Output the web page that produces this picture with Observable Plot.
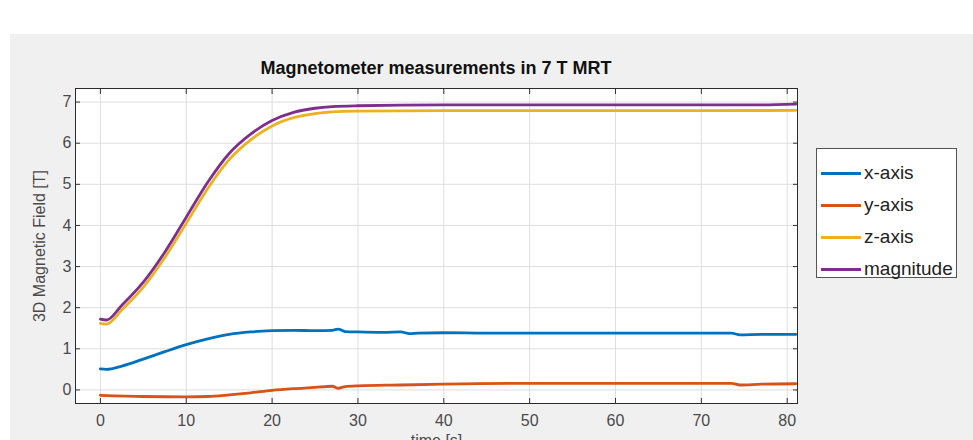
<!DOCTYPE html>
<html>
<head>
<meta charset="utf-8">
<script src="https://cdn.jsdelivr.net/npm/d3@7"></script>
<script src="https://cdn.jsdelivr.net/npm/@observablehq/plot@0.6"></script>
<style>
  html, body { margin: 0; padding: 0; background: #ffffff; }
  #page { position: relative; width: 973px; height: 440px; overflow: hidden; font-family: "Liberation Sans", Arial, sans-serif; }
  #bg { position: absolute; left: 10px; top: 34px; right: 0; bottom: 0; background: #f0f0f0; }
  #chart { position: absolute; left: 0; top: 0; }
  #title { position: absolute; left: 0; width: 872px; top: 58px; text-align: center; font-weight: bold; font-size: 18px; line-height: 20px; color: #111; }
  #legend { position: absolute; left: 816px; top: 148px; width: 141px; height: 130px; background: #fff; border: 1px solid #555; box-sizing: border-box; padding-top: 8px; }
  .item { display: flex; align-items: center; height: 32px; }
  .swatch { width: 40px; height: 3px; margin-left: 4px; margin-right: 3px; }
  .lab { font-size: 19px; color: #222; }
</style>
</head>
<body>
<div id="page">
  <div id="bg"></div>
  <div id="chart"></div>
  <div id="title">Magnetometer measurements in 7 T MRT</div>
  <div id="legend"></div>
</div>
<script>
// ---- data ----
const seriesNames = ["x-axis", "y-axis", "z-axis", "magnitude"];
const seriesColors = ["#0072BD", "#D95319", "#EDB120", "#7E2F8E"];

const tX = [0, 0.7, 2.5, 5, 7.5, 10, 12.5, 15, 17.5, 20, 22.5, 25, 27, 27.7, 28.5, 30, 33, 35, 36, 37, 40, 45, 50, 55, 60, 65, 70, 73.5, 74.5, 77, 81];
const xAxisVals = [0.51, 0.50, 0.58, 0.75, 0.93, 1.10, 1.24, 1.35, 1.41, 1.44, 1.45, 1.44, 1.45, 1.48, 1.42, 1.41, 1.40, 1.41, 1.37, 1.38, 1.39, 1.38, 1.38, 1.38, 1.38, 1.38, 1.38, 1.38, 1.34, 1.35, 1.35];

const tY = [0, 5, 10, 12.5, 15, 17.5, 20, 22.5, 25, 27, 27.7, 28.5, 30, 35, 40, 50, 60, 70, 73.5, 74.5, 77, 81];
const yAxisVals = [-0.13, -0.16, -0.17, -0.16, -0.12, -0.07, -0.01, 0.03, 0.06, 0.09, 0.04, 0.08, 0.10, 0.12, 0.14, 0.16, 0.16, 0.16, 0.16, 0.12, 0.14, 0.15];

const tZ = [0, 0.7, 2.5, 5, 7.5, 10, 12.5, 15, 17.5, 20, 22.5, 25, 27, 30, 40, 50, 60, 70, 81];
const zAxisVals = [1.62, 1.60, 1.95, 2.50, 3.22, 4.05, 4.90, 5.60, 6.08, 6.42, 6.62, 6.72, 6.76, 6.78, 6.79, 6.79, 6.79, 6.79, 6.80];

const tM = [0, 0.7, 2.5, 5, 7.5, 10, 12.5, 15, 17.5, 20, 22.5, 25, 27, 30, 40, 50, 60, 70, 77, 81];
const magnitudeVals = [1.72, 1.70, 2.06, 2.62, 3.35, 4.20, 5.05, 5.75, 6.22, 6.55, 6.75, 6.85, 6.89, 6.91, 6.93, 6.93, 6.93, 6.93, 6.93, 6.95];

const xTicks = [0, 10, 20, 30, 40, 50, 60, 70, 80];
const yTicks = [0, 1, 2, 3, 4, 5, 6, 7];
const xLabel = "time [s]";
const yLabel = "3D Magnetic Field [T]";

// ---- build table ----
const rows = [];
[[tX, xAxisVals], [tY, yAxisVals], [tZ, zAxisVals], [tM, magnitudeVals]].forEach(([ts, vs], i) => {
  ts.forEach((t, j) => rows.push({series: seriesNames[i], t, v: vs[j]}));
});

const tickColor = "#333";
const textColor = "#4a4a4a";

const chart = Plot.plot({
  width: 973,
  height: 440,
  marginLeft: 75,
  marginRight: 176,
  marginTop: 88,
  marginBottom: 37,
  style: {background: "transparent", fontFamily: "'Liberation Sans', Arial, sans-serif", fontSize: "16px", overflow: "visible"},
  x: {domain: [-2.9, 81.2]},
  y: {domain: [-0.33, 7.33]},
  color: {domain: seriesNames, range: seriesColors},
  marks: [
    Plot.frame({fill: "white", stroke: "none"}),
    Plot.gridX({ticks: xTicks, stroke: "#dedede", strokeOpacity: 1}),
    Plot.gridY({ticks: yTicks, stroke: "#dedede", strokeOpacity: 1}),
    Plot.line(rows, {x: "t", y: "v", z: "series", stroke: "series", strokeWidth: 2.8, curve: "monotone-x"}),
    Plot.frame({stroke: "#2b2b2b", strokeWidth: 1}),
    // labels
    Plot.axisY({ticks: yTicks, tickSize: 0, tickPadding: 4, fill: textColor, label: yLabel, labelAnchor: "center", labelOffset: 42, labelArrow: "none"}),
    Plot.axisX({ticks: xTicks, tickSize: 0, tickPadding: 11, fill: textColor, label: xLabel, labelAnchor: "center", labelOffset: 42, labelArrow: "none"}),
    // inward ticks on all four sides
    Plot.axisY({ticks: yTicks, anchor: "left", tickSize: -5, fill: "none", stroke: tickColor, label: null}),
    Plot.axisY({ticks: yTicks, anchor: "right", tickSize: -5, fill: "none", stroke: tickColor, label: null}),
    Plot.axisX({ticks: xTicks, anchor: "bottom", tickSize: -5, fill: "none", stroke: tickColor, label: null}),
    Plot.axisX({ticks: xTicks, anchor: "top", tickSize: -5, fill: "none", stroke: tickColor, label: null})
  ]
});
document.getElementById("chart").appendChild(chart);

// ---- legend ----
const legend = document.getElementById("legend");
seriesNames.forEach((name, i) => {
  const item = document.createElement("div");
  item.className = "item";
  const sw = document.createElement("div");
  sw.className = "swatch";
  sw.style.background = chart.scale("color").apply(name);
  const lab = document.createElement("span");
  lab.className = "lab";
  lab.textContent = name;
  item.appendChild(sw);
  item.appendChild(lab);
  legend.appendChild(item);
});
</script>
</body>
</html>
